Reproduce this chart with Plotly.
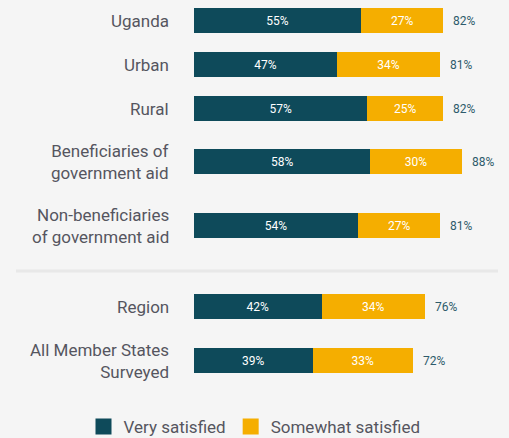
import plotly.graph_objects as go

categories = ["Uganda", "Urban", "Rural", "Beneficiaries of<br>government aid",
              "Non-beneficiaries<br>of government aid", "Region",
              "All Member States<br>Surveyed"]
very_satisfied = [55, 47, 57, 58, 54, 42, 39]
somewhat_satisfied = [27, 34, 25, 30, 27, 34, 33]
totals = [82, 81, 82, 88, 81, 76, 72]

# layout: vertical spacing between rows (in plot pixels)
first_row = 20.5
row_gaps = [44, 44, 53, 64, 81, 54]
ypos = [first_row]
for g in row_gaps:
    ypos.append(ypos[-1] + g)

TEAL = "#0E4A5A"
GOLD = "#F5AE00"
BG = "#F5F5F5"
FONT = "Roboto"
LABEL = "#55555F"

fig = go.Figure()
fig.add_trace(go.Bar(
    y=ypos, x=very_satisfied, orientation="h", width=25,
    marker=dict(color=TEAL, line=dict(width=0)),
    text=[f"{v}%" for v in very_satisfied], textposition="inside",
    insidetextanchor="middle", textfont=dict(color="#FFFFFF", size=12, family=FONT),
    showlegend=False, hoverinfo="skip"))
fig.add_trace(go.Bar(
    y=ypos, x=somewhat_satisfied, orientation="h", width=25,
    marker=dict(color=GOLD, line=dict(width=0)),
    text=[f"{v}%" for v in somewhat_satisfied], textposition="inside",
    insidetextanchor="middle", textfont=dict(color="#FFFFFF", size=12, family=FONT),
    showlegend=False, hoverinfo="skip"))
# legend entries
for name, col in [("Very satisfied", TEAL), ("Somewhat satisfied", GOLD)]:
    fig.add_trace(go.Scatter(x=[None], y=[None], mode="markers", name=name,
                             marker=dict(symbol="square", size=17, color=col)))

annotations = []
for y, t in zip(ypos, totals):
    annotations.append(dict(x=t, y=y, xref="x", yref="y", text=f"{t}%", showarrow=False,
                            xanchor="left", xshift=8,
                            font=dict(color="#2D5B6B", size=12, family=FONT)))
for y, c in zip(ypos, categories):
    annotations.append(dict(x=0, y=y, xref="x", yref="y", text=c, showarrow=False,
                            xanchor="right", align="right", xshift=-23,
                            font=dict(color=LABEL, size=17, family=FONT)))

fig.update_layout(
    width=509, height=438, barmode="stack",
    paper_bgcolor=BG, plot_bgcolor=BG,
    margin=dict(l=16, r=11, t=0, b=58, autoexpand=False),
    font=dict(family=FONT, color=LABEL, size=16),
    xaxis=dict(range=[-58.55, 100], visible=False, fixedrange=True),
    yaxis=dict(range=[380, 0], visible=False, fixedrange=True),
    legend=dict(orientation="h", xref="container", yref="container", x=0.5, xanchor="center",
                y=0.025, yanchor="middle", font=dict(size=17, color=LABEL),
                bgcolor="rgba(0,0,0,0)", traceorder="normal"),
    annotations=annotations,
    shapes=[dict(type="line", xref="paper", yref="y", x0=0, x1=1.0,
                 y0=271, y1=271, line=dict(color="#E8E8E8", width=3))],
)
fig.write_html("out.html", config={"displayModeBar": False},
               post_script="document.body.style.margin='0';document.body.style.background='#F5F5F5';")
